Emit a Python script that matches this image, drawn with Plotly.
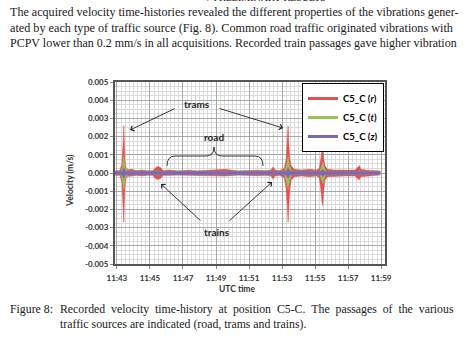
import plotly.graph_objects as go

DAY = "2015-03-10 "

# ---------- data (envelopes) ----------
r_time = ["11:42:53","11:43:10","11:43:18","11:43:21","11:43:23","11:43:25","11:43:27","11:43:29","11:43:33","11:43:40",
          "11:43:55","11:44:10","11:44:30","11:44:50","11:45:10","11:45:18","11:45:25","11:45:32","11:45:40","11:45:48",
          "11:46:10","11:46:40","11:47:20","11:47:50","11:48:30","11:49:10","11:49:33","11:50:20","11:50:50","11:51:30",
          "11:52:00","11:52:20","11:52:27","11:52:35","11:52:50","11:53:08","11:53:15","11:53:19","11:53:22","11:53:25",
          "11:53:28","11:53:33","11:53:45","11:54:10","11:54:40","11:55:05","11:55:15","11:55:21","11:55:25","11:55:28",
          "11:55:31","11:55:36","11:55:45","11:56:10","11:56:50","11:57:25","11:57:35","11:57:40","11:57:46","11:58:10",
          "11:58:40","11:58:56"]
r_upper = [0.00012,0.00013,0.0005,0.0011,0.0018,0.0026,0.0014,0.0007,0.0003,0.00018,
           0.0002,0.00012,0.00016,0.00012,0.00013,0.00028,0.00035,0.00035,0.00028,0.00013,
           0.00016,0.00011,0.00015,0.00011,0.00013,0.00016,0.0002,0.00011,0.00013,0.00015,
           0.00012,0.00017,0.00033,0.00017,0.00013,0.00025,0.0008,0.0016,0.0026,0.0015,
           0.0008,0.0004,0.0002,0.00016,0.0002,0.00016,0.00025,0.0008,0.0014,0.0016,
           0.0008,0.0004,0.0002,0.00016,0.00016,0.00016,0.0003,0.00042,0.0002,0.00015,
           0.00013,0.00011]
r_lower = [-0.00012,-0.00013,-0.0005,-0.0012,-0.0020,-0.0027,-0.0016,-0.0008,-0.0003,-0.00018,
           -0.00017,-0.00012,-0.00016,-0.00012,-0.00013,-0.00028,-0.00035,-0.00035,-0.00028,-0.00013,
           -0.00013,-0.00011,-0.00013,-0.00011,-0.00013,-0.00016,-0.00017,-0.00011,-0.00013,-0.00015,
           -0.00012,-0.00017,-0.00033,-0.00017,-0.00013,-0.00025,-0.0009,-0.0018,-0.0027,-0.0017,
           -0.0009,-0.0004,-0.0002,-0.00016,-0.0002,-0.00016,-0.00025,-0.0009,-0.0016,-0.0018,
           -0.0010,-0.0004,-0.0002,-0.00016,-0.00016,-0.00016,-0.0003,-0.00038,-0.0002,-0.00015,
           -0.00013,-0.00011]

t_time = ["11:42:53","11:43:15","11:43:20","11:43:25","11:43:30","11:43:40","11:45:15","11:45:28","11:45:40",
          "11:53:10","11:53:17","11:53:22","11:53:27","11:53:35","11:55:18","11:55:24","11:55:28","11:55:33",
          "11:55:40","11:57:33","11:57:40","11:57:47","11:58:56"]
t_upper = [0.00008,0.0001,0.0004,0.0009,0.0003,0.0001,0.00008,0.00013,0.00008,
           0.0001,0.0005,0.0009,0.0004,0.0001,0.0001,0.0004,0.0006,0.0003,
           0.0001,0.00008,0.00012,0.00008,0.00008]
t_lower = [-0.00008,-0.0001,-0.0004,-0.0009,-0.0003,-0.0001,-0.00008,-0.00013,-0.00008,
           -0.0001,-0.0005,-0.0009,-0.0004,-0.0001,-0.0001,-0.0004,-0.0006,-0.0003,
           -0.0001,-0.00008,-0.00012,-0.00008,-0.00008]

z_time = ["11:42:53","11:43:18","11:43:25","11:43:32","11:53:15","11:53:22","11:53:29",
          "11:55:22","11:55:28","11:55:34","11:58:56"]
z_upper = [0.00008,0.0001,0.0003,0.0001,0.0001,0.0003,0.0001,0.0001,0.0002,0.0001,0.00008]
z_lower = [-0.00008,-0.0001,-0.0003,-0.0001,-0.0001,-0.0003,-0.0001,-0.0001,-0.0002,-0.0001,-0.00008]

series_names = ["C5_C (<i>r</i>)", "C5_C (<i>t</i>)", "C5_C (<i>z</i>)"]
series_colors = ["#DF5250", "#9DC05B", "#7F68B2"]

y_tickvals = [0.005, 0.004, 0.003, 0.002, 0.001, 0.0, -0.001, -0.002, -0.003, -0.004, -0.005]
y_ticktext = ["0.005", "0.004", "0.003", "0.002", "0.001", "0.000", "-0.001", "-0.002", "-0.003", "-0.004", "-0.005"]
x_ticks = ["11:43", "11:45", "11:47", "11:49", "11:51", "11:53", "11:55", "11:57", "11:59"]

# ---------- layout geometry (page pixels) ----------
W, H = 473, 346
PX0, PX1, PY0, PY1 = 115, 385, 82, 264


def px(x):
    return (x - PX0) / (PX1 - PX0)


def py(y):
    return (PY1 - y) / (PY1 - PY0)


fig = go.Figure()

envelopes = [(r_time, r_upper, r_lower), (t_time, t_upper, t_lower), (z_time, z_upper, z_lower)]
for (tt, up, lo), name, col in zip(envelopes, series_names, series_colors):
    xs = [DAY + s for s in tt]
    fig.add_trace(go.Scatter(
        x=xs + xs[::-1], y=up + lo[::-1], mode="lines", fill="toself",
        fillcolor=col, line=dict(color=col, width=0.5), showlegend=False, hoverinfo="skip"))
for name, col in zip(series_names, series_colors):
    fig.add_trace(go.Scatter(x=[None], y=[None], mode="lines", name="<b>" + name + "</b>",
                             line=dict(color=col, width=3)))

tick_font = dict(family="Lato", size=8, color="#333333")
fig.update_layout(
    width=W, height=H,
    margin=dict(l=PX0, r=W - PX1, t=PY0, b=H - PY1),
    paper_bgcolor="white", plot_bgcolor="white",
    showlegend=True,
    legend=dict(x=px(384), y=py(83), xanchor="right", yanchor="top",
                bgcolor="white", bordercolor="black", borderwidth=1,
                font=dict(family="Lato", size=9.5, color="black"),
                itemwidth=30, tracegroupgap=0),
    xaxis=dict(type="date",
               range=[DAY + "11:42:53", DAY + "11:59:14"],
               tickvals=[DAY + t for t in x_ticks], ticktext=["<b>%s</b>" % t for t in x_ticks],
               tickfont=tick_font, ticks="outside", ticklen=3, tickcolor="#888",
               ticklabelstandoff=2,
               showgrid=True, gridcolor="#A8A8A8", gridwidth=1,
               minor=dict(dtick=15000, tick0=DAY + "11:43:00", showgrid=True, gridcolor="#DADADA", gridwidth=1),
               showline=True, linecolor="#555", linewidth=2, mirror=True, zeroline=False),
    yaxis=dict(range=[-0.005, 0.005],
               tickvals=y_tickvals, ticktext=["<b>%s</b>" % t for t in y_ticktext],
               tickfont=tick_font, ticks="outside", ticklen=3, tickcolor="#888",
               showgrid=True, gridcolor="#A8A8A8", gridwidth=1,
               minor=dict(dtick=0.00025, showgrid=True, gridcolor="#DADADA", gridwidth=1),
               showline=True, linecolor="#555", linewidth=2, mirror=True, zeroline=False),
)


def note(x, y, text, font, xanchor="center", yanchor="middle", **kw):
    fig.add_annotation(x=px(x), y=py(y), xref="paper", yref="paper", text=text,
                       xanchor=xanchor, yanchor=yanchor, showarrow=False, font=font, **kw)


# axis titles
note(70, 181, "<b>Velocity (m/s)</b>", dict(family="Lato", size=8.5, color="#333"), textangle=-90)
note(237, 289, "<b>UTC time</b>", dict(family="Lato", size=8.5, color="#333"))
# labels in chart
lab_font = dict(family="Lato", size=10, color="#222")
note(197, 104, "<b>trams</b>", lab_font)
note(214, 137, "<b>road</b>", lab_font)
note(217, 232, "<b>trains</b>", lab_font)
# arrows: (tail, tip)
arrows = [((176, 108), (130, 130)), ((218, 108), (283, 128)),
          ((202, 222), (161, 184)), ((228, 222), (272, 182))]
for (tx, ty), (hx, hy) in arrows:
    fig.add_annotation(x=px(hx), y=py(hy), xref="paper", yref="paper",
                       ax=tx - hx, ay=ty - hy, axref="pixel", ayref="pixel",
                       text="", showarrow=True, arrowhead=4, arrowsize=1.2, arrowwidth=0.9,
                       arrowcolor="#222")

# page text
serif = "Liberation Serif"
NB = " \u00a0"
page_lines = [
    (8, 12, 12.1, "The acquired velocity time-histories revealed the different properties of the vibrations gener-"),
    (8, 28, 12.2, "ated by each type of traffic source (Fig. 8). Common road traffic originated vibrations with"),
    (8, 43, 12.0, "PCPV lower than 0.2 mm/s in all acquisitions. Recorded train passages gave higher vibration"),
    (8, 309, 11.8, "Figure 8:"),
    (58, 309, 11.8, "Recorded velocity time-history at position C5-C. The passages of the various".replace(" ", NB)),
    (58, 324, 11.8, "traffic sources are indicated (road, trams and trains)."),
]
for x, y, fs, txt in page_lines:
    note(x, y, txt, dict(family=serif, size=fs, color="#1a1a1a"), xanchor="left")
note(266, -3, "7 PRELIMINARY RESULTS", dict(family=serif, size=10, color="#1a1a1a"))

# curly brace over "road"
pts = [(167, 166), (167, 156), (175, 156), (206, 156), (214, 156), (214, 147), (214, 156), (222, 156),
       (255, 156), (263, 156), (263, 166)]
P = [(px(a), py(b)) for a, b in pts]
path = ("M {0[0]},{0[1]} Q {1[0]},{1[1]} {2[0]},{2[1]} L {3[0]},{3[1]} Q {4[0]},{4[1]} {5[0]},{5[1]} "
        "Q {6[0]},{6[1]} {7[0]},{7[1]} L {8[0]},{8[1]} Q {9[0]},{9[1]} {10[0]},{10[1]}").format(*P)
fig.add_shape(type="path", path=path, xref="paper", yref="paper", line=dict(color="#222", width=0.9))

fig.write_html("out.html")
